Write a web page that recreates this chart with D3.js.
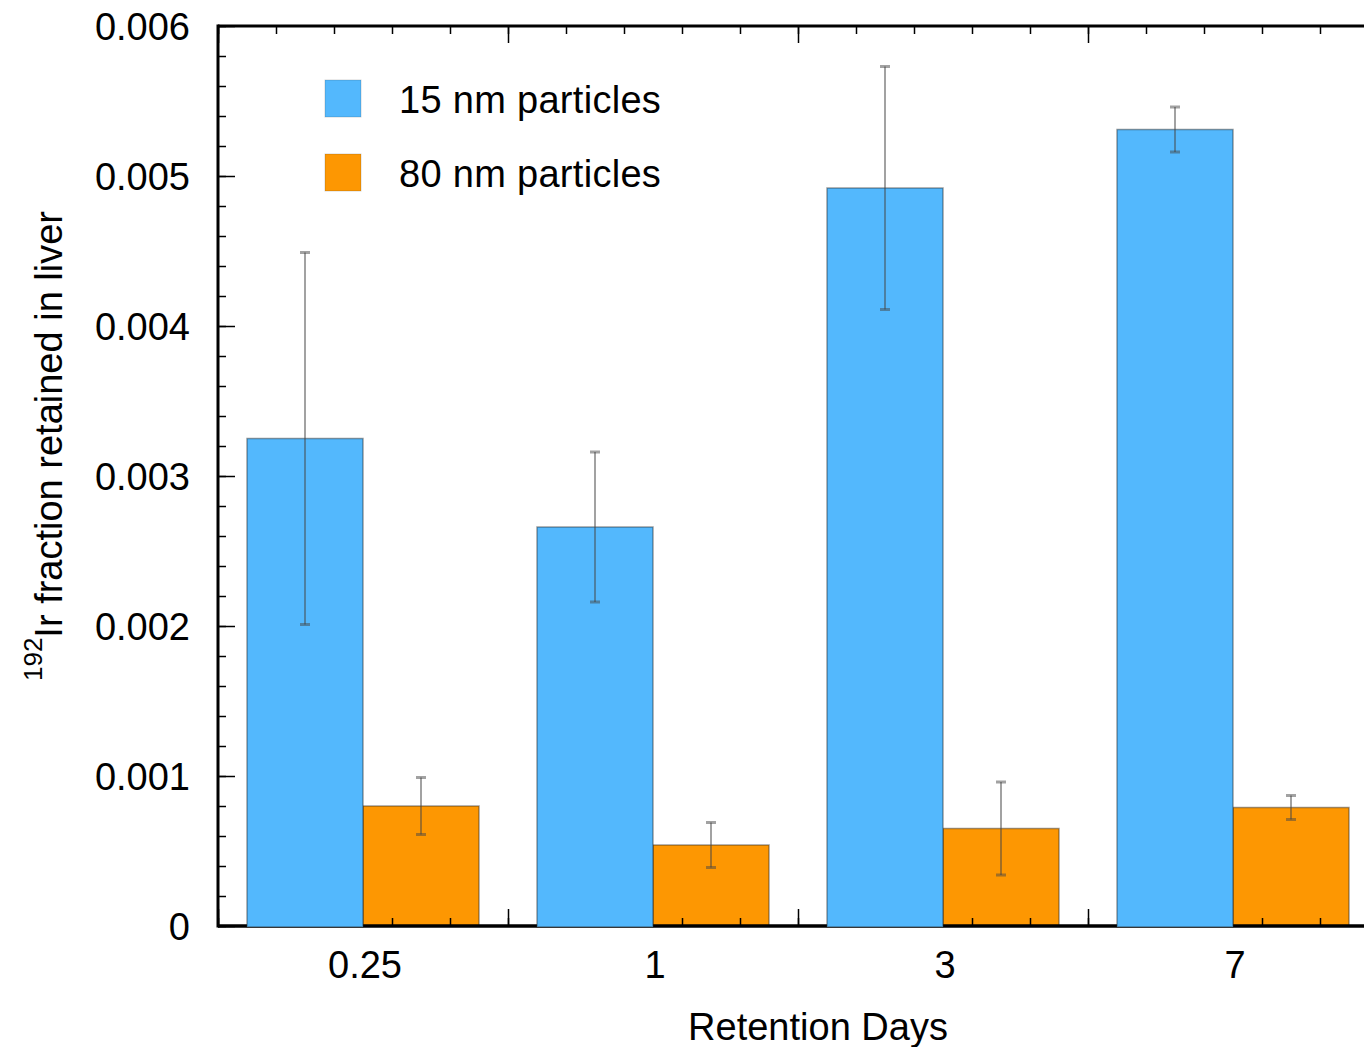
<!DOCTYPE html>
<html>
<head>
<meta charset="utf-8">
<script src="https://cdn.jsdelivr.net/npm/d3@7"></script>
<style>
  body { margin: 0; background: #fff; }
  text { font-family: "Liberation Sans", Arial, sans-serif; fill: #000; }
</style>
</head>
<body>
<svg width="1364" height="1047"></svg>
<script>
// data
const categories = ["0.25", "1", "3", "7"];
const series = ["15 nm particles", "80 nm particles"];
const values15 = [0.00325, 0.00266, 0.00492, 0.00531];
const err15 = [0.00124, 0.00050, 0.00081, 0.00015];
const values80 = [0.00080, 0.00054, 0.00065, 0.00079];
const err80 = [0.00019, 0.00015, 0.00031, 0.00008];
const yTicks = [0, 0.001, 0.002, 0.003, 0.004, 0.005, 0.006];
const yTickLabels = ["0", "0.001", "0.002", "0.003", "0.004", "0.005", "0.006"];

const colors = ["#53b8fd", "#fd9702"];

const svg = d3.select("svg");
const margin = { top: 26, right: -14, bottom: 121, left: 218 };
const width = +svg.attr("width") - margin.left - margin.right;
const height = +svg.attr("height") - margin.top - margin.bottom;
const g = svg.append("g").attr("transform", `translate(${margin.left},${margin.top})`);

// x runs over category slots 0..n, bars sit inside each slot
const x = d3.scaleLinear().domain([0, categories.length]).range([0, width]);
const y = d3.scaleLinear().domain([0, 0.006]).range([height, 0]);

const minorX = d3.range(0, categories.length + 0.001, 0.2);
const majorX = d3.range(0, categories.length + 1, 1);
const minorY = d3.range(0, 0.00601, 0.0002);

function styleTicks(sel, w) {
  sel.select(".domain").remove();
  sel.selectAll(".tick line").attr("stroke", "#000").attr("stroke-width", w);
  sel.selectAll(".tick text").remove();
}

// left, right and top axes (ticks point inward)
[[d3.axisLeft, 0, -1], [d3.axisRight, width, 1]].forEach(([ax, tx, s]) => {
  g.append("g").attr("transform", `translate(${tx},0)`)
    .call(ax(y).tickValues(minorY).tickSize(8 * s)).call(styleTicks, 1.5);
  g.append("g").attr("transform", `translate(${tx},0)`)
    .call(ax(y).tickValues(yTicks).tickSize(17 * s)).call(styleTicks, 1.5);
});
g.append("g").call(d3.axisTop(x).tickValues(minorX).tickSize(-8)).call(styleTicks, 1.5);
g.append("g").call(d3.axisTop(x).tickValues(majorX).tickSize(-17)).call(styleTicks, 1.5);

// frame lines
g.append("line").attr("x1", 0).attr("x2", 0).attr("y1", y(0.006) - 1.5).attr("y2", y(0) + 1.5)
  .attr("stroke", "#000").attr("stroke-width", 3);
g.append("line").attr("x1", 0).attr("x2", width).attr("y1", y(0.006)).attr("y2", y(0.006))
  .attr("stroke", "#000").attr("stroke-width", 3);
g.append("line").attr("x1", width).attr("x2", width).attr("y1", y(0.006)).attr("y2", y(0))
  .attr("stroke", "#000").attr("stroke-width", 3);

// y tick labels
g.selectAll(".ylab").data(yTicks).enter().append("text")
  .attr("class", "ylab")
  .attr("x", -28)
  .attr("y", d => y(d))
  .attr("dy", "0.36em")
  .attr("text-anchor", "end")
  .attr("font-size", 38)
  .text((d, i) => yTickLabels[i]);

const barStroke = "rgba(40,40,40,0.45)";

// orange bars sit under the bottom axis
g.selectAll(".bar80").data(values80).enter().append("rect")
  .attr("class", "bar80")
  .attr("x", (d, i) => x(i + 0.5))
  .attr("y", d => y(d))
  .attr("width", x(0.4) - x(0))
  .attr("height", d => y(0) - y(d))
  .attr("fill", colors[1])
  .attr("stroke", barStroke)
  .attr("stroke-width", 1.5);

// bottom axis
const bottom = g.append("g").attr("transform", `translate(0,${height})`);
bottom.append("g").call(d3.axisBottom(x).tickValues(minorX).tickSize(-8)).call(styleTicks, 1.5);
bottom.append("g").call(d3.axisBottom(x).tickValues(majorX).tickSize(-17)).call(styleTicks, 1.5);
bottom.append("line").attr("x1", 0).attr("x2", width).attr("stroke", "#000").attr("stroke-width", 3.5);

// blue bars cover the bottom axis
g.selectAll(".bar15").data(values15).enter().append("rect")
  .attr("class", "bar15")
  .attr("x", (d, i) => x(i + 0.1))
  .attr("y", d => y(d))
  .attr("width", x(0.4) - x(0))
  .attr("height", d => y(0) - y(d) + 1)
  .attr("fill", colors[0])
  .attr("stroke", barStroke)
  .attr("stroke-width", 1.5);

// error bars
const errData = [
  ...values15.map((v, i) => ({ cx: i + 0.3, v, e: err15[i] })),
  ...values80.map((v, i) => ({ cx: i + 0.7, v, e: err80[i] }))
];
const errColor = "rgba(70,70,70,0.5)";
const eb = g.selectAll(".err").data(errData).enter().append("g").attr("class", "err");
eb.append("line")
  .attr("x1", d => x(d.cx)).attr("x2", d => x(d.cx))
  .attr("y1", d => y(d.v + d.e)).attr("y2", d => y(d.v - d.e))
  .attr("stroke", errColor).attr("stroke-width", 2);
eb.selectAll(".cap").data(d => [d.v + d.e, d.v - d.e].map(t => ({ cx: d.cx, t })))
  .enter().append("line")
  .attr("x1", d => x(d.cx) - 5).attr("x2", d => x(d.cx) + 5)
  .attr("y1", d => y(d.t)).attr("y2", d => y(d.t))
  .attr("stroke", errColor).attr("stroke-width", 3);

// x tick labels
g.selectAll(".xlab").data(categories).enter().append("text")
  .attr("class", "xlab")
  .attr("x", (d, i) => x(i + 0.5) + 2)
  .attr("y", height + 52)
  .attr("text-anchor", "middle")
  .attr("font-size", 38)
  .text(d => d);

// axis titles
g.append("text")
  .attr("x", x(2) + 20)
  .attr("y", height + 114)
  .attr("text-anchor", "middle")
  .attr("font-size", 38)
  .text("Retention Days");

const yt = svg.append("text")
  .attr("transform", "translate(62,446) rotate(-90)")
  .attr("text-anchor", "middle")
  .attr("font-size", 38);
yt.append("tspan").attr("font-size", 26).attr("dy", -20).text("192");
yt.append("tspan").attr("dy", 20).text("Ir fraction retained in liver");

// legend
const legend = g.append("g").attr("transform", "translate(107,54)");
series.forEach((s, i) => {
  const row = legend.append("g").attr("transform", `translate(0,${i * 74})`);
  row.append("rect").attr("width", 36).attr("height", 37)
    .attr("fill", colors[i]).attr("stroke", "rgba(40,40,40,0.2)").attr("stroke-width", 1);
  row.append("text").attr("x", 74).attr("y", 33).attr("font-size", 38)
    .attr("letter-spacing", 0.3).text(s);
});
</script>
</body>
</html>
